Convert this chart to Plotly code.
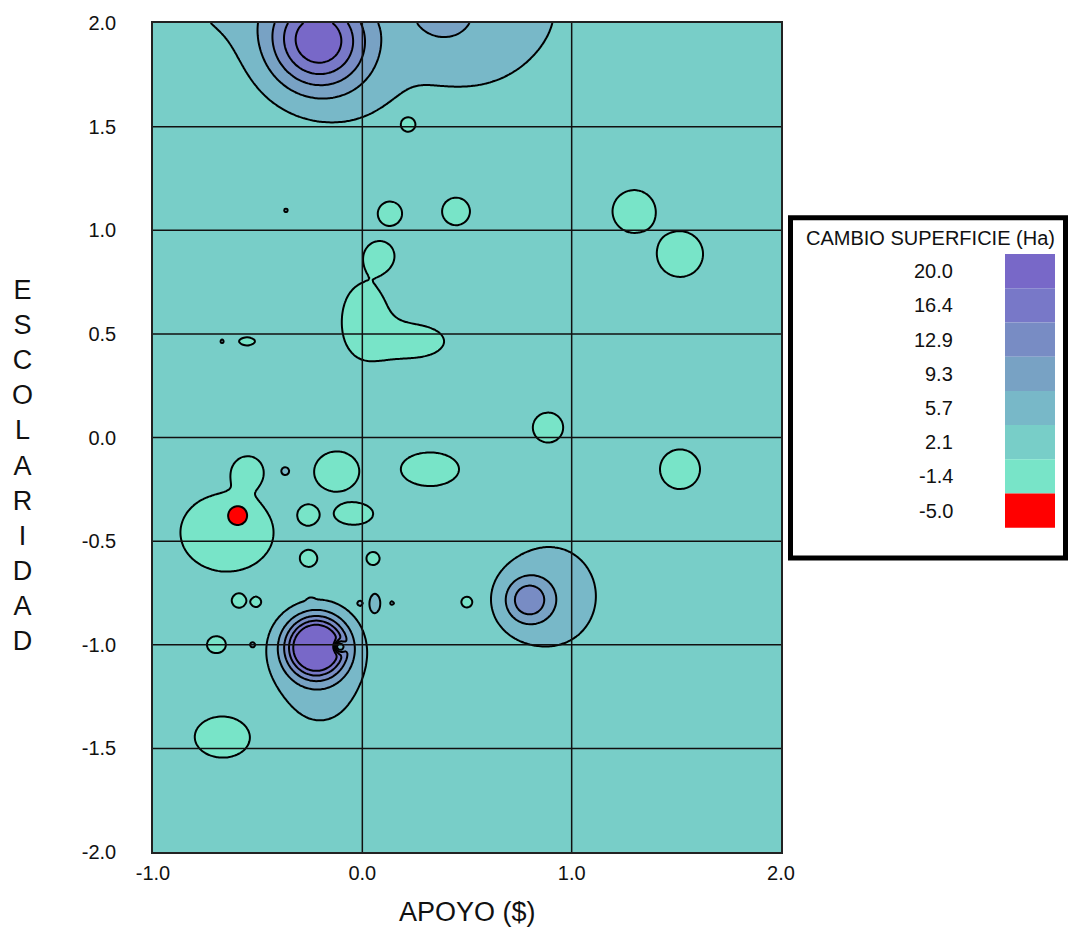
import numpy as np
import plotly.graph_objects as go

# ---------------- data ----------------
x_ticks = [-1.0, 0.0, 1.0, 2.0]
y_ticks = [-2.0, -1.5, -1.0, -0.5, 0.0, 0.5, 1.0, 1.5, 2.0]

legend_title = "CAMBIO SUPERFICIE (Ha)"
legend_levels = [20.0, 16.4, 12.9, 9.3, 5.7, 2.1, -1.4, -5.0]
legend_colors = ["#7868C8", "#7878C8", "#788CC4", "#78A2C4",
                 "#78B8C8", "#78CEC8", "#78E4C8", "#FF0000"]

level_start = -5.0 + 25.0 / 7.0
level_end = 20.0
level_step = 25.0 / 7.0

# surface: background level plus local peaks / hollows
base_level = 3.9
feat_x = [-0.212, -0.632, -0.011, 0.658, 0.371, 0.4666,  # top peak and its ridge
          -0.221, -0.202, -0.112,                 # lower peak, skirt, steep notch
          0.7915, 0.8966,                         # right peak (core, skirt)
          -0.369, 0.0605,                         # small bumps
          0.218, 0.132, 0.4475, 1.298, 1.5175, 0.887, 1.5175,
          -0.121, 0.323, -0.040, -0.255, -0.255, 0.051,
          -0.589, -0.508, 0.500, -0.697, -0.666, -0.551,
          -0.6465, -0.546, -0.594,                # left hollow, knob, red core
          0.0844, 0.0128, 0.2516,                 # centre hollow (knob, body, foot)
          -0.670, -0.365, -0.670, -0.245, -0.011, 0.142, -0.670, -0.525]
feat_y = [1.919, 2.172, 1.694, 2.077, 2.077, 1.800,
          -1.010, -1.200, -1.010,
          -0.785, -0.766,
          -0.163, -0.799,
          1.512, 1.081, 1.091, 1.091, 0.885, 0.048, -0.153,
          -0.163, -0.153, -0.368, -0.373, -0.584, -0.584,
          -0.789, -0.794, -0.794, -1.000, -1.445, 0.464,
          -0.459, -0.158, -0.373,
          0.880, 0.569, 0.464,
          0.464, 1.096, -0.163, -0.794, -0.799, -0.799, -0.804, -1.000]
feat_amp = [19.0, 2.8, 1.3, 2.4, 5.5, 1.0,
            28.5, 2.6, -14.0,
            9.2, 3.5,
            3.0, 3.0,
            -5.0, -5.0, -5.0, -5.0, -5.0, -5.0, -5.0,
            -5.0, -5.0, -5.0, -4.4, -5.0, -5.0,
            -4.5, -4.5, -5.0, -5.0, -5.0, -5.0,
            -3.0, -3.2, -5.0,
            -3.2, -3.0, -3.0,
            2.4, 2.4, 2.4, 2.4, 2.4, 2.4, 2.4, 2.4]
feat_sx = [0.167, 0.191, 0.215, 0.334, 0.140, 0.220,
           0.0957, 0.170, 0.019,
           0.0765, 0.191,
           0.024, 0.024,
           0.030, 0.040, 0.046, 0.071, 0.076, 0.050, 0.066,
           0.073, 0.096, 0.063, 0.032, 0.025, 0.0215,
           0.021, 0.016, 0.020, 0.031, 0.093, 0.026,
           0.215, 0.053, 0.0415,
           0.057, 0.105, 0.134,
           0.012, 0.012, 0.012, 0.012, 0.012, 0.012, 0.012, 0.012]
feat_sy = [0.167, 0.191, 0.215, 0.287, 0.134, 0.160,
           0.0957, 0.190, 0.019,
           0.0765, 0.206,
           0.024, 0.043,
           0.030, 0.040, 0.046, 0.071, 0.076, 0.050, 0.066,
           0.066, 0.056, 0.036, 0.032, 0.025, 0.0215,
           0.021, 0.016, 0.020, 0.028, 0.069, 0.013,
           0.182, 0.053, 0.0415,
           0.057, 0.167, 0.072,
           0.012, 0.012, 0.012, 0.012, 0.012, 0.012, 0.012, 0.012]

# ---------------- surface ----------------
gx = np.linspace(-1.0, 2.0, 301)
gy = np.linspace(-2.0, 2.0, 401)
X, Y = np.meshgrid(gx, gy)
Z = np.full_like(X, base_level)
for fx, fy, fa, sx, sy in zip(feat_x, feat_y, feat_amp, feat_sx, feat_sy):
    Z += fa * np.exp(-(((X - fx) ** 2) / (2 * sx ** 2) + ((Y - fy) ** 2) / (2 * sy ** 2)))

band_colors = list(reversed(legend_colors))  # low -> high
n_bands = len(band_colors)
colorscale = [[i / (n_bands - 1), c] for i, c in enumerate(band_colors)]

fig = go.Figure()
fig.add_trace(go.Contour(
    x=gx, y=gy, z=Z,
    autocontour=False,
    contours=dict(start=level_start, end=level_end, size=level_step,
                  coloring="fill", showlines=True),
    colorscale=colorscale,
    line=dict(color="black", width=2, smoothing=1),
    showscale=False,
    hoverinfo="skip",
))

# ---------------- layout ----------------
W, H = 1068, 931
L, R, T, B = 153, 287, 16, 79
pw, ph = W - L - R, H - T - B

def px(xp):
    return (xp - L) / pw

def py(yp):
    return (H - B - yp) / ph

FONT = "Arial, Liberation Sans, sans-serif"
shapes = []
for v in y_ticks[1:-1]:
    shapes.append(dict(type="line", xref="x", yref="y", x0=x_ticks[0], x1=x_ticks[-1],
                       y0=v, y1=v, line=dict(color="#111", width=1.5), layer="above"))
for v in x_ticks[1:-1]:
    shapes.append(dict(type="line", xref="x", yref="y", x0=v, x1=v,
                       y0=y_ticks[0], y1=y_ticks[-1], line=dict(color="#111", width=1.5),
                       layer="above"))

# legend box
shapes.append(dict(type="rect", xref="paper", yref="paper",
                   x0=px(790.5), x1=px(1065.5), y0=py(555.5), y1=py(212.5),
                   line=dict(color="black", width=5), fillcolor="white", layer="above"))
annotations = [dict(text=legend_title, xref="paper", yref="paper", x=px(930), y=py(233),
                    showarrow=False, font=dict(family=FONT, size=20, color="#111"),
                    xanchor="center", yanchor="middle")]
sw_top, sw_h = 249.0, 34.5
for i, (lv, c) in enumerate(zip(legend_levels, legend_colors)):
    shapes.append(dict(type="rect", xref="paper", yref="paper",
                       x0=px(1005), x1=px(1055), y0=py(sw_top + (i + 1) * sw_h),
                       y1=py(sw_top + i * sw_h), line=dict(width=0), fillcolor=c,
                       layer="above"))
    annotations.append(dict(text=f"{lv:.1f}", xref="paper", yref="paper", x=px(955),
                            y=py(sw_top + (i + 0.5) * sw_h), showarrow=False,
                            xanchor="right", yanchor="middle",
                            font=dict(family=FONT, size=20, color="#111")))

annotations.append(dict(text="APOYO ($)", xref="paper", yref="paper", x=0.5, y=py(913),
                        showarrow=False, xanchor="center", yanchor="middle",
                        font=dict(family=FONT, size=27, color="#111")))
annotations.append(dict(text="<br>".join(list("ESCOLARIDAD")), xref="paper", yref="paper",
                        x=px(22), y=py(462), showarrow=False, xanchor="center",
                        yanchor="middle", font=dict(family=FONT, size=27, color="#111")))

fig.update_layout(
    width=W, height=H,
    margin=dict(l=L, r=R, t=T, b=B, pad=0),
    paper_bgcolor="white", plot_bgcolor=legend_colors[5],
    shapes=shapes, annotations=annotations,
    xaxis=dict(range=[x_ticks[0], x_ticks[-1]], tickvals=x_ticks,
               ticktext=[f"{v:.1f}" for v in x_ticks],
               showgrid=False, zeroline=False, showline=True, mirror=True,
               linecolor="#222", linewidth=1.5, ticks="", ticklabelstandoff=2,
               tickfont=dict(family=FONT, size=20, color="#111")),
    yaxis=dict(range=[y_ticks[0], y_ticks[-1]], tickvals=y_ticks,
               ticktext=[f"{v:.1f}" for v in y_ticks],
               showgrid=False, zeroline=False, showline=True, mirror=True,
               linecolor="#222", linewidth=1.5, ticks="", ticklabelstandoff=31,
               tickfont=dict(family=FONT, size=20, color="#111")),
    showlegend=False,
)

fig.write_html("out.html")
